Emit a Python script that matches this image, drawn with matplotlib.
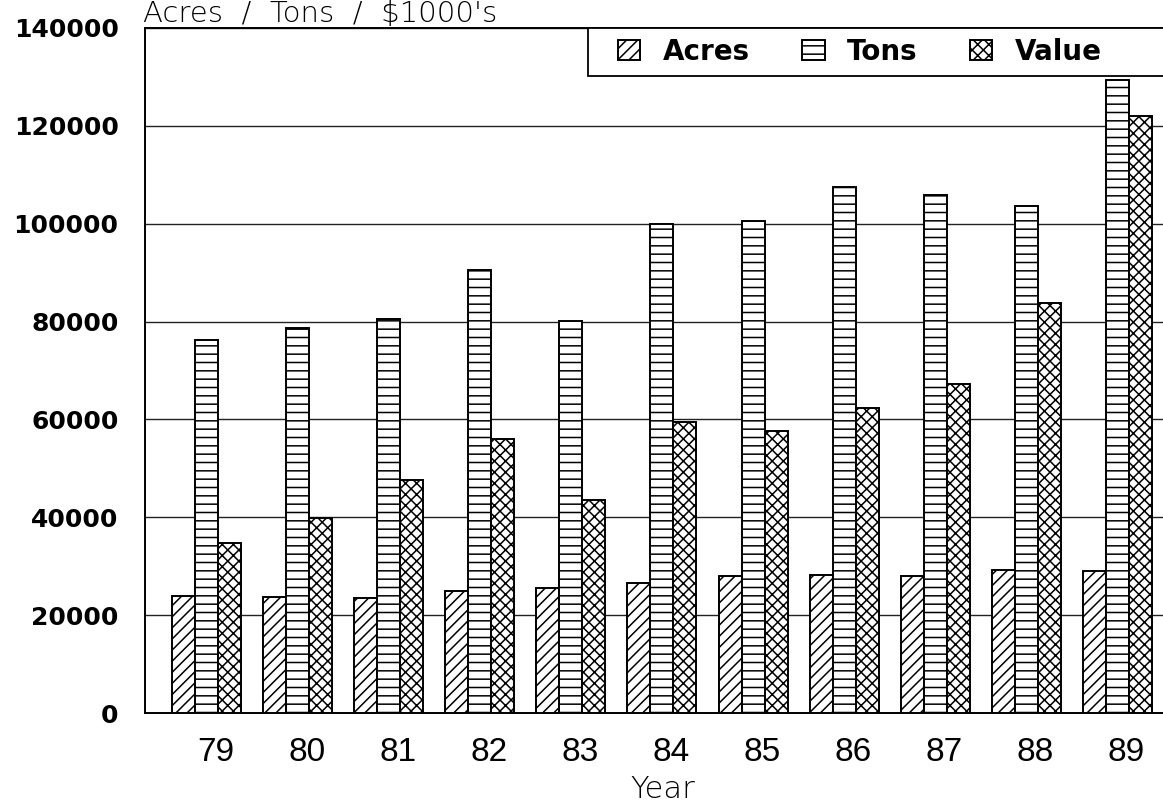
import numpy as np
from matplotlib import pyplot as plt
from matplotlib.patches import Rectangle

years = ['79', '80', '81', '82', '83', '84', '85', '86', '87', '88', '89']
acres = [24000, 23700, 23600, 24900, 25600, 26500, 28000, 28300, 27900, 29200, 29100]
tons = [76300, 78700, 80500, 90600, 80100, 100000, 100600, 107500, 105800, 103700, 129300]
value = [34800, 39900, 47700, 55900, 43500, 59400, 57600, 62300, 67300, 83700, 122100]

plt.rcParams['hatch.linewidth'] = 1.1

fig = plt.figure(figsize=(11.63, 8.05), dpi=100)
ax = fig.add_axes([145 / 1163, 92 / 805, 1.0 - 145 / 1163, 685 / 805])

x = np.arange(len(years))
w = 0.2525
bar_kw = dict(width=w, color='white', edgecolor='black', linewidth=1.4, zorder=3)
ax.bar(x - w, acres, hatch='///', label='Acres', **bar_kw)
ax.bar(x, tons, hatch='--', label='Tons', **bar_kw)
ax.bar(x + w, value, hatch='xxx', label='Value', **bar_kw)

ax.set_xlim(-0.675, 10.5)
ax.set_ylim(0, 140000)
ax.set_yticks(np.arange(0, 140001, 20000))
ax.set_yticklabels([str(v) for v in range(0, 140001, 20000)],
                   fontsize=18, fontweight='bold', family='DejaVu Sans')
ax.set_xticks(x + 0.1)
ax.set_xticklabels(years, fontsize=24, family='Liberation Sans')
ax.tick_params(axis='both', length=0)
ax.tick_params(axis='x', pad=17)
ax.tick_params(axis='y', pad=19)

ax.yaxis.grid(True, color='#222222', linewidth=1.0)
ax.set_axisbelow(True)
for s in ['left', 'bottom', 'top']:
    ax.spines[s].set_linewidth(1.4)
    ax.spines[s].set_color('black')
ax.spines['right'].set_visible(False)

# legend box runs off the right edge, so draw it by hand
x0 = (588 - 145) / (1163 - 145)
h = 48 / 685
ax.add_patch(Rectangle((x0, 1 - h), 1.2 - x0, h, transform=ax.transAxes, facecolor='white',
                       edgecolor='black', linewidth=1.3, clip_on=False, zorder=5))
leg = ax.legend(loc='center left', bbox_to_anchor=(x0, 1 - h / 2), ncol=3, frameon=False,
                borderaxespad=0, borderpad=1.08, handlelength=0.8, handleheight=0.72,
                handletextpad=0.8, columnspacing=1.9,
                prop={'family': 'DejaVu Sans', 'weight': 'bold', 'size': 20})
leg.set_zorder(6)

fig.text(143 / 1163, 1 - 22 / 805, "Acres  /  Tons  /  $1000's", fontsize=21,
         fontweight='light', family='DejaVu Sans', va='baseline', ha='left')
fig.text(663 / 1163, 1 - 798 / 805, 'Year', fontsize=22,
         fontweight='light', family='DejaVu Sans', va='baseline', ha='center')

fig.savefig('out.png', dpi=100)
